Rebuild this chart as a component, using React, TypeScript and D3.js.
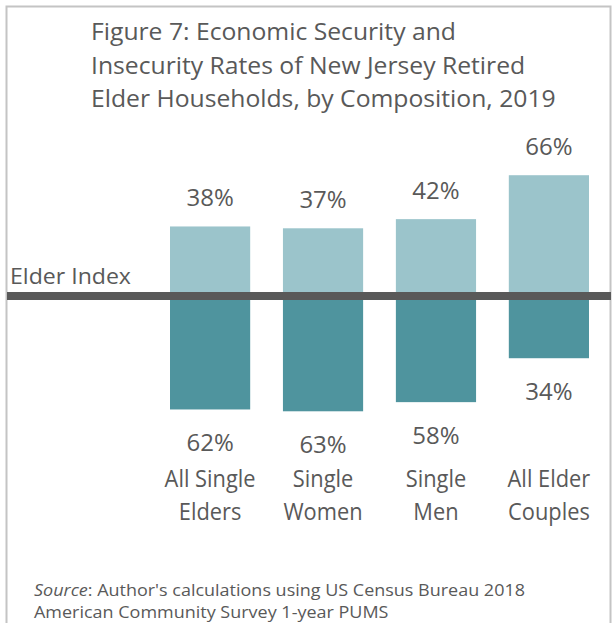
import React from "react";
import * as d3 from "d3";

const categories = ["All Single Elders", "Single Women", "Single Men", "All Elder Couples"];
const categoryLines = [["All Single", "Elders"], ["Single", "Women"], ["Single", "Men"], ["All Elder", "Couples"]];
const secureRates = [38, 37, 42, 66];
const insecureRates = [62, 63, 58, 34];
const titleLines = [
  "Figure 7: Economic Security and",
  "Insecurity Rates of New Jersey Retired",
  "Elder Households, by Composition, 2019",
];

const W = 613;
const H = 623;
const FONT = "'Open Sans', sans-serif";
const TEXT = "#595959";

function SText({ x, y, size, sx = 1, anchor = "start", children }: any) {
  return (
    <text
      transform={`translate(${x},${y}) scale(${sx},1)`}
      fontSize={size}
      fill={TEXT}
      textAnchor={anchor}
    >
      {children}
    </text>
  );
}

export default function App() {
  const x = d3.scaleBand<string>().domain(categories).range([170, 589]).paddingInner(0.29).paddingOuter(0);
  const y = d3.scaleLinear().domain([-100, 100]).range([296 + 183, 296 - 183]);
  const y0 = y(0);

  return (
    <svg width={W} height={H} style={{ position: "fixed", left: 0, top: 0 }} fontFamily={FONT}>
      <rect x={0} y={0} width={W} height={H} fill="#fff" />
      <rect x={6.5} y={6.5} width={604} height={640} fill="none" stroke="#c4c4c4" strokeWidth={2} />
      {titleLines.map((t, i) => (
        <SText key={i} x={91} y={40 + i * 33.5} size={23.4} sx={1.056}>
          {t}
        </SText>
      ))}
      {categories.map((c, i) => {
        const bx = x(c)!;
        const bw = x.bandwidth();
        const cx = bx + bw / 2;
        const topY = y(secureRates[i]);
        const botY = y(-insecureRates[i]);
        return (
          <g key={c}>
            <rect x={bx} y={topY} width={bw} height={y0 - topY} fill="#9bc4cb" />
            <rect x={bx} y={y0} width={bw} height={botY - y0} fill="#4f949e" />
            <SText x={cx} y={topY - 20} size={24} anchor="middle">
              {secureRates[i]}%
            </SText>
            <SText x={cx} y={botY + 42} size={24} anchor="middle">
              {insecureRates[i]}%
            </SText>
            {categoryLines[i].map((l, j) => (
              <SText key={j} x={cx} y={487 + j * 32.5} size={23} sx={0.95} anchor="middle">
                {l}
              </SText>
            ))}
          </g>
        );
      })}
      <line x1={7} x2={611} y1={y0} y2={y0} stroke="#595959" strokeWidth={8} />
      <SText x={10} y={284} size={21} sx={1.1}>
        Elder Index
      </SText>
      <SText x={34} y={596} size={16.5} sx={1.09}>
        <tspan fontStyle="italic">Source</tspan>: Author's calculations using US Census Bureau 2018
      </SText>
      <SText x={34} y={618} size={16.5} sx={1.09}>
        American Community Survey 1-year PUMS
      </SText>
    </svg>
  );
}
